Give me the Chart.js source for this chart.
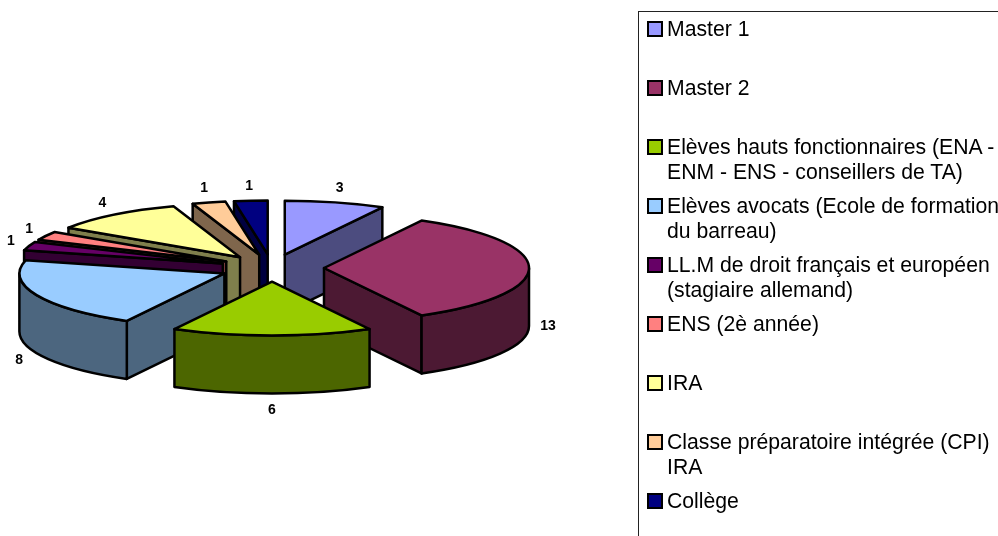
<!DOCTYPE html>
<html>
<head>
<meta charset="utf-8">
<style>
    html, body { margin: 0; padding: 0; background: #fff; overflow: hidden; width: 998px; height: 536px; }
    canvas { position: absolute; left: 0; top: 0; }
    #legend {
        position: absolute; left: 638px; top: 11px; width: 400px; height: 600px;
        border: 1px solid #222; box-sizing: border-box; margin: 0; padding: 4px 0 0 8px; list-style: none;
        font: 21.2px/25px "Liberation Sans", Arial, sans-serif; color: #000;
    }
    #legend li { height: 59px; white-space: pre; padding-left: 20px; position: relative; }
    #legend span {
        position: absolute; left: 0; top: 5px; width: 16px; height: 16px;
        box-sizing: border-box; border: 2px solid #000;
    }
</style>
</head>
<body>
<canvas id="pie-chart" width="998" height="536"></canvas>
<ul id="legend"></ul>
<script src="https://cdn.jsdelivr.net/npm/chart.js"></script>
<script>
const categories = [
    'Master 1',
    'Master 2',
    'Elèves hauts fonctionnaires (ENA -\nENM - ENS - conseillers de TA)',
    'Elèves avocats (Ecole de formation\ndu barreau)',
    'LL.M de droit français et européen\n(stagiaire allemand)',
    'ENS (2è année)',
    'IRA',
    'Classe préparatoire intégrée (CPI)\nIRA',
    'Collège'
];
const values = [3, 13, 6, 8, 1, 1, 4, 1, 1];
const colors = ['#9999FF', '#993366', '#99CC00', '#99CCFF', '#660066', '#FF8080', '#FFFF99', '#FFCC99', '#000080'];

const TILT = 0.263;   // vertical squash of the pie
const DEPTH = 58;     // height of the slices

// side walls are the slice colour at half brightness
function darken(hex) {
    const n = parseInt(hex.slice(1), 16);
    return `rgb(${(n >> 16) >> 1}, ${((n >> 8) & 255) >> 1}, ${(n & 255) >> 1})`;
}

// Chart.js has no 3D pie, so take the arcs it laid out and extrude them
const pie3d = {
    id: 'pie3d',
    beforeDatasetDraw(chart, args) {
        const ctx = chart.ctx;
        const arcs = args.meta.data.map((arc, i) => {
            const p = arc.getProps(['x', 'y', 'startAngle', 'endAngle', 'outerRadius']);
            const mid = (p.startAngle + p.endAngle) / 2;
            const off = arc.options.offset;
            return {
                i, mid,
                start: p.startAngle,
                end: p.endAngle,
                r: p.outerRadius,
                x: p.x + Math.cos(mid) * off,
                y: p.y + Math.sin(mid) * off * TILT,
                fill: arc.options.backgroundColor,
                line: arc.options.borderColor,
                width: arc.options.borderWidth
            };
        });

        // paint from the back of the pie to the front
        arcs.sort((a, b) => Math.sin(a.mid) - Math.sin(b.mid));

        ctx.save();
        ctx.lineJoin = 'round';
        arcs.forEach(s => {
            const rx = s.r, ry = s.r * TILT;
            ctx.strokeStyle = s.line;
            ctx.lineWidth = s.width;
            ctx.fillStyle = darken(s.fill);

            // radial walls, only the ones turned to the viewer
            [[s.start, Math.cos(s.start) < -1e-6], [s.end, Math.cos(s.end) > 1e-6]].forEach(([a, show]) => {
                if (!show) return;
                const px = s.x + rx * Math.cos(a), py = s.y + ry * Math.sin(a);
                ctx.beginPath();
                ctx.moveTo(s.x, s.y);
                ctx.lineTo(px, py);
                ctx.lineTo(px, py + DEPTH);
                ctx.lineTo(s.x, s.y + DEPTH);
                ctx.closePath();
                ctx.fill();
                ctx.stroke();
            });

            // outer wall, the part of the rim in the front half
            const from = Math.max(s.start, 0), to = Math.min(s.end, Math.PI);
            if (to > from) {
                ctx.beginPath();
                ctx.ellipse(s.x, s.y, rx, ry, 0, from, to);
                ctx.ellipse(s.x, s.y + DEPTH, rx, ry, 0, to, from, true);
                ctx.closePath();
                ctx.fill();
                ctx.stroke();
            }

            // top face
            ctx.fillStyle = s.fill;
            ctx.beginPath();
            ctx.moveTo(s.x, s.y);
            ctx.ellipse(s.x, s.y, rx, ry, 0, s.start, s.end);
            ctx.closePath();
            ctx.fill();
            ctx.stroke();
        });

        // value labels
        ctx.fillStyle = '#000';
        ctx.font = 'bold 14px "Liberation Sans", Arial, sans-serif';
        ctx.textAlign = 'center';
        ctx.textBaseline = 'middle';
        arcs.forEach(s => {
            const el = args.meta.data[s.i];
            const dist = s.r + el.options.offset + 19;
            const back = Math.sin(s.mid) < -0.01;
            const dy = back ? 10.5 * Math.sin(s.mid) : DEPTH + 11 * Math.sin(s.mid);
            ctx.fillText(values[s.i],
                el.x + Math.cos(s.mid) * dist,
                el.y + Math.sin(s.mid) * dist * TILT + dy + 0.5);
        });
        ctx.restore();
        return false;
    }
};

const chart = new Chart(document.getElementById('pie-chart'), {
    type: 'pie',
    data: {
        labels: categories,
        datasets: [{
            data: values,
            backgroundColor: colors,
            borderColor: '#000',
            borderWidth: 2.5,
            offset: 52
        }]
    },
    options: {
        responsive: false,
        animation: false,
        radius: 205,
        layout: { padding: { right: 454 } },
        plugins: {
            legend: { display: false },
            tooltip: { enabled: false }
        }
    },
    plugins: [pie3d]
});

// html legend, the built in one cannot wrap its rows like the original
const legendList = document.getElementById('legend');
Chart.overrides.pie.plugins.legend.labels.generateLabels(chart).forEach(item => {
    const li = document.createElement('li');
    const box = document.createElement('span');
    box.style.background = item.fillStyle;
    li.appendChild(box);
    li.appendChild(document.createTextNode(item.text));
    legendList.appendChild(li);
});
</script>
</body>
</html>
